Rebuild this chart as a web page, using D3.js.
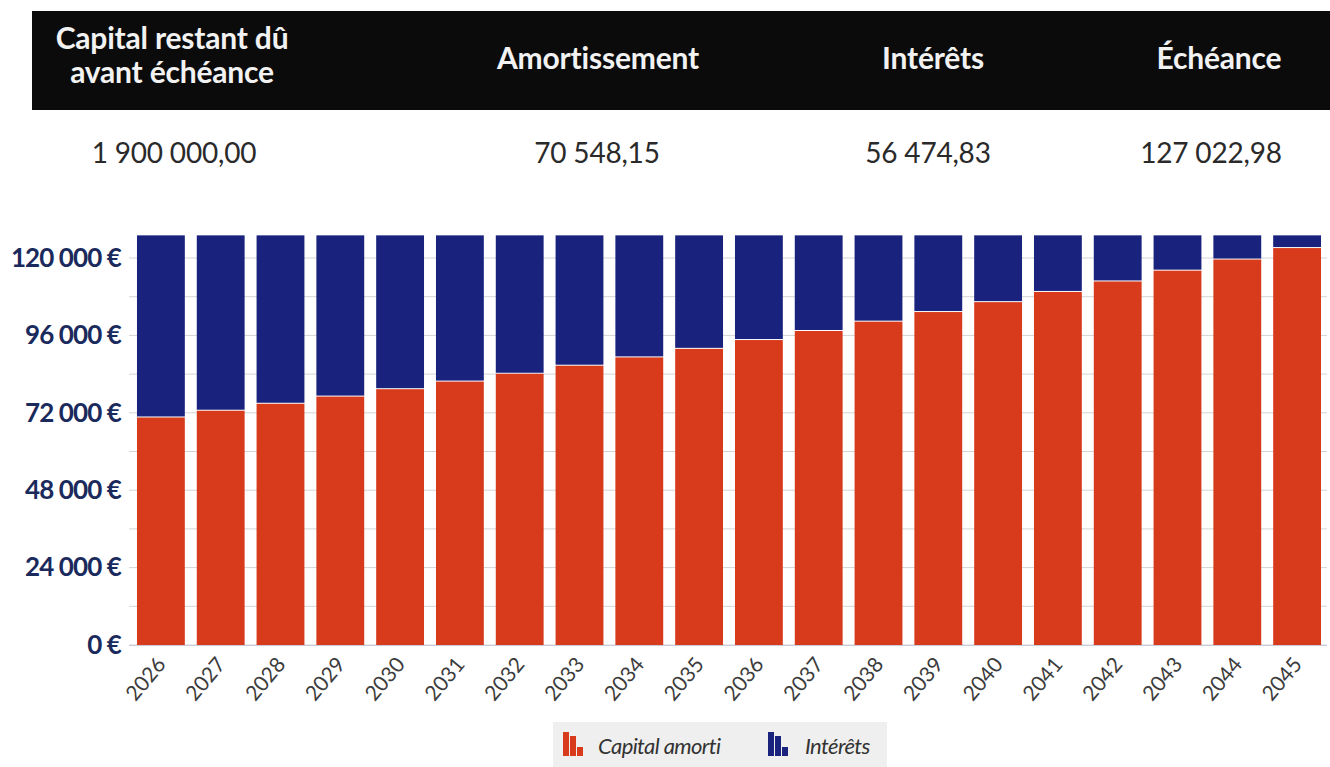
<!DOCTYPE html>
<html><head><meta charset="utf-8">
<script src="https://cdn.jsdelivr.net/npm/d3@7"></script>
<style>
body{margin:0;background:#fff;font-family:Lato,"Open Sans",sans-serif;}
</style></head><body>
<svg id="c" width="1330" height="767"></svg>
<script>
const years = ["2026","2027","2028","2029","2030","2031","2032","2033","2034","2035","2036","2037","2038","2039","2040","2041","2042","2043","2044","2045"];
const capitalAmorti = [70548,72645,74804,77028,79318,81676,84104,86604,89178,91829,94558,97369,100263,103243,106312,109472,112726,116077,119527,123080];
const interets = [56475,54378,52219,49995,47705,45347,42919,40419,37845,35194,32465,29654,26760,23780,20711,17551,14297,10946,7496,3943];
const headerLabels = [["Capital restant dû","avant échéance"],["Amortissement"],["Intérêts"],["Échéance"]];
const headerValues = ["1 900 000,00","70 548,15","56 474,83","127 022,98"];
const yTicks = [0,24000,48000,72000,96000,120000];
const seriesNames = ["Capital amorti","Intérêts"];

const RED="#d83b1c", BLUE="#19237e", NAVY="#1b2a5c";
const svg=d3.select("#c");

// header
svg.append("rect").attr("x",32).attr("y",11).attr("width",1298).attr("height",99).attr("fill","#0b0b0b");
const colX=[172,598,933,1219];
const valX=[174,597,928,1211];
headerLabels.forEach((lines,i)=>{
  const t=svg.append("text").attr("x",colX[i]).attr("text-anchor","middle")
    .attr("fill","#f2f2f2").attr("font-size",30).attr("font-weight",700).attr("letter-spacing",-0.2);
  const y0 = lines.length===2 ? 49 : 69;
  lines.forEach((l,j)=>t.append("tspan").attr("x",colX[i]).attr("y",y0+j*34).text(l));
});
headerValues.forEach((v,i)=>{
  svg.append("text").attr("x",valX[i]).attr("y",163).attr("text-anchor","middle")
    .attr("fill","#2a2a2a").attr("font-size",28).attr("letter-spacing",-0.2).text(v);
});

// chart
const x=d3.scaleBand().domain(years).range([131,1327]).paddingInner(0.2).paddingOuter(0.1);
const y=d3.scaleLinear().domain([0,120000]).range([645,258]);

const grid=d3.range(0,132000,12000);
svg.append("g").selectAll("line").data(grid).join("line")
  .attr("x1",129).attr("x2",1327).attr("y1",d=>y(d)).attr("y2",d=>y(d))
  .attr("stroke","#d4d4d4").attr("stroke-width",1);

const fmt=d=>d3.format(",")(d).replace(/,/g,"\u00a0")+"\u00a0€";
const yAxis=svg.append("g").attr("transform","translate(121,0)")
  .call(d3.axisLeft(y).tickValues(yTicks).tickSize(0).tickPadding(0).tickFormat(fmt));
yAxis.select(".domain").remove();
yAxis.selectAll("text").attr("fill",NAVY).attr("font-size",26).attr("font-weight",700)
  .attr("font-family","Lato").attr("letter-spacing",-0.9);

const data=years.map((yr,i)=>({yr,a:capitalAmorti[i],b:interets[i]}));
const g=svg.append("g");
g.selectAll(".r").data(data).join("rect").attr("x",d=>x(d.yr)).attr("width",x.bandwidth())
  .attr("y",d=>y(d.a)).attr("height",d=>y(0)-y(d.a)).attr("fill",RED);
g.selectAll(".b").data(data).join("rect").attr("x",d=>x(d.yr)).attr("width",x.bandwidth())
  .attr("y",d=>y(d.a+d.b)).attr("height",d=>y(d.a)-y(d.a+d.b)-1).attr("fill",BLUE);

svg.append("line").attr("x1",129).attr("x2",1327).attr("y1",y(0)+0.5).attr("y2",y(0)+0.5).attr("stroke","#c8ccd8");

const xAxis=svg.append("g").attr("transform",`translate(0,${y(0)})`)
  .call(d3.axisBottom(x).tickSize(0).tickPadding(0));
xAxis.select(".domain").remove();
xAxis.selectAll("text").attr("fill","#3c3c3c").attr("font-size",21).attr("font-family","Lato")
  .attr("text-anchor","end").attr("dy",0).attr("transform","translate(6,20) rotate(-50)");

// legend
svg.append("rect").attr("x",553).attr("y",722).attr("width",334).attr("height",45).attr("fill","#efefef");
const leg=[[563,598,RED],[768,805,BLUE]];
seriesNames.forEach((n,i)=>{
  const [ix,tx,c]=leg[i];
  const gI=svg.append("g").attr("fill",c);
  gI.append("rect").attr("x",ix).attr("y",732).attr("width",6).attr("height",24);
  gI.append("rect").attr("x",ix+7).attr("y",736).attr("width",6).attr("height",20);
  gI.append("rect").attr("x",ix+14).attr("y",747).attr("width",6).attr("height",9);
  svg.append("text").attr("x",tx).attr("y",754).attr("font-size",22).attr("font-style","italic")
    .attr("fill","#333").attr("letter-spacing",-0.6).text(n);
});
</script></body></html>
